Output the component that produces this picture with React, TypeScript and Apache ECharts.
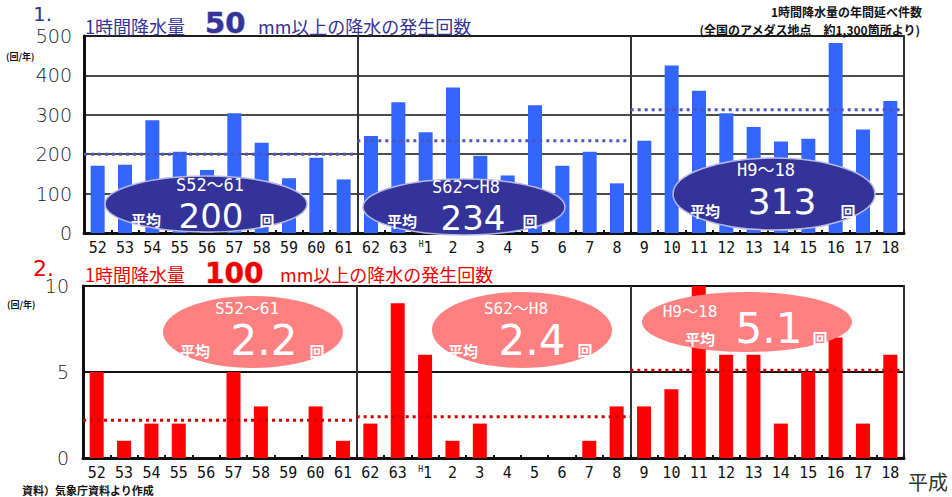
import React, { useEffect, useRef } from 'react';
import * as echarts from 'echarts';

const categories = ['52','53','54','55','56','57','58','59','60','61','62','63','H1','2','3','4','5','6','7','8','9','10','11','12','13','14','15','16','17','18'];
const count50 = [171,173,286,206,160,304,229,139,191,136, 246,332,256,369,196,146,324,171,206,126, 234,425,361,304,269,232,239,482,263,335];
const count100 = [5,1,2,2,0,5,3,0,3,1, 2,9,6,1,2,0,0,0,1,3, 3,4,10,6,6,2,5,7,2,6];
const periodLabels = ['S52～61', 'S62～H8', 'H9～18'];
const mean50 = [200, 234, 313];
const mean100 = [2.2, 2.4, 5.1];
const periodStart = [0, 10, 20];
const periodEnd = [10, 20, 30];

const JP = '"Noto Sans CJK JP", "Noto Sans", sans-serif';
const MONO = '"DejaVu Sans Mono", "Noto Sans CJK JP", monospace';
const SANS = '"DejaVu Sans", "Noto Sans", sans-serif';

function txt(text: string, x: number, y: number, size: number, fill: string, opts: any = {}) {
  return {
    type: 'text',
    x, y, z: 100,
    style: {
      text,
      fill,
      fontSize: size,
      fontFamily: opts.family || JP,
      fontWeight: opts.weight || 'normal',
      align: opts.align || 'left',
      verticalAlign: 'middle',
      stroke: opts.stroke,
      lineWidth: opts.lineWidth,
      shadowColor: opts.shadow,
      shadowOffsetX: opts.shadow ? 1.5 : 0,
      shadowOffsetY: opts.shadow ? 1.5 : 0,
      shadowBlur: 0,
    },
  };
}

type Bubble = { cx: number; cy: number; rx: number; ry: number; per: [number, number]; avg: [number, number]; num: [number, number]; kai: [number, number] };

const topBubbles: Bubble[] = [
  { cx: 206, cy: 204, rx: 101, ry: 28, per: [210, 185], avg: [146, 219], num: [211, 216], kai: [267, 219] },
  { cx: 464, cy: 207, rx: 101, ry: 28, per: [466, 187], avg: [402, 220], num: [473, 218], kai: [530, 220] },
  { cx: 774, cy: 194, rx: 101, ry: 36, per: [766, 170], avg: [705, 210], num: [782, 201], kai: [848, 210] },
];
const bottomBubbles: Bubble[] = [
  { cx: 253, cy: 332, rx: 90, ry: 36, per: [247, 308], avg: [195, 350], num: [264, 340], kai: [317, 350] },
  { cx: 522, cy: 330, rx: 90, ry: 38, per: [516, 308], avg: [463, 350], num: [532, 340], kai: [585, 349] },
  { cx: 747, cy: 322, rx: 105, ry: 30, per: [690, 311], avg: [700, 338], num: [769, 328], kai: [820, 337] },
];

function bubbleElements(b: Bubble[], fill: string, stroke: string, means: number[], numSizes: number[], perSize: number) {
  const els: any[] = [];
  b.forEach((e, i) => {
    els.push({ type: 'ellipse', z: 90, shape: { cx: e.cx, cy: e.cy, rx: e.rx, ry: e.ry }, style: { fill, stroke, lineWidth: stroke === 'none' ? 0 : 1.5 } });
    els.push(txt(periodLabels[i], e.per[0], e.per[1], perSize, '#ffffff', { family: MONO, align: 'center' }));
    els.push(txt('平均', e.avg[0], e.avg[1], 15, '#ffffff', { align: 'center', weight: 'bold', shadow: '#888' }));
    els.push(txt(String(means[i]), e.num[0], e.num[1], numSizes[i], '#ffffff', { family: SANS, align: 'center', shadow: '#999' }));
    els.push(txt('回', e.kai[0], e.kai[1], 15, '#ffffff', { align: 'center', weight: 'bold', shadow: '#888' }));
  });
  return els;
}

export default function App() {
  const ref = useRef<HTMLDivElement>(null);
  useEffect(() => {
    if (!ref.current) return;
    const chart = echarts.init(ref.current, null, { renderer: 'svg' });
    const xLabel = {
      fontFamily: MONO,
      fontSize: 15,
      color: '#111',
      interval: 0,
      formatter: (v: string) => (v === 'H1' ? '{s|H}1' : v),
      rich: { s: { fontSize: 8, fontFamily: MONO, verticalAlign: 'top', color: '#111' } },
    };
    const yLabel = { fontFamily: SANS, fontWeight: 200, fontSize: 19, color: '#222' };
    const option: any = {
      animation: false,
      backgroundColor: '#ffffff',
      grid: [
        { left: 84, right: 48, top: 36, height: 197, show: true, borderColor: '#444', borderWidth: 2, backgroundColor: 'transparent' },
        { left: 83, right: 48, top: 286, height: 172, show: true, borderColor: '#222', borderWidth: 2, backgroundColor: 'transparent' },
      ],
      xAxis: [
        { type: 'category', gridIndex: 0, data: categories, axisLine: { lineStyle: { color: '#111', width: 3 } }, axisTick: { show: true, inside: true, length: 3, lineStyle: { color: '#111', width: 2 } }, axisLabel: { ...xLabel, margin: 7 } },
        { type: 'value', gridIndex: 0, min: 0, max: 30, interval: 10, position: 'top', axisLine: { show: false }, axisTick: { show: false }, axisLabel: { show: false }, splitLine: { show: true, lineStyle: { color: '#333', width: 2 } } },
        { type: 'category', gridIndex: 1, data: categories, axisLine: { lineStyle: { color: '#111', width: 3 } }, axisTick: { show: true, inside: true, length: 3, lineStyle: { color: '#111', width: 2 } }, axisLabel: { ...xLabel, margin: 7 } },
        { type: 'value', gridIndex: 1, min: 0, max: 30, interval: 10, position: 'top', axisLine: { show: false }, axisTick: { show: false }, axisLabel: { show: false }, splitLine: { show: true, lineStyle: { color: '#333', width: 2 } } },
      ],
      yAxis: [
        { type: 'value', gridIndex: 0, min: 0, max: 500, interval: 100, axisLine: { show: true, lineStyle: { color: '#111', width: 3 } }, axisTick: { show: false }, axisLabel: { ...yLabel, margin: 12 }, splitLine: { lineStyle: { color: '#111', width: 1.5 } } },
        { type: 'value', gridIndex: 1, min: 0, max: 10, interval: 5, axisLine: { show: true, lineStyle: { color: '#111', width: 3 } }, axisTick: { show: false }, axisLabel: { ...yLabel, margin: 14 }, splitLine: { lineStyle: { color: '#111', width: 2 } } },
      ],
      series: [
        { type: 'bar', xAxisIndex: 0, yAxisIndex: 0, data: count50, barWidth: 14, itemStyle: { color: '#3366ff' }, z: 2 },
        ...mean50.map((m, i) => ({ type: 'line', xAxisIndex: 1, yAxisIndex: 0, data: [[periodStart[i], m], [periodEnd[i], m]], symbol: 'none', lineStyle: { color: '#5252b8', width: 3, type: [3, 4] }, z: 3 })),
        { type: 'bar', xAxisIndex: 2, yAxisIndex: 1, data: count100, barWidth: 14, itemStyle: { color: '#ff0000' }, z: 2 },
        ...mean100.map((m, i) => ({ type: 'line', xAxisIndex: 3, yAxisIndex: 1, data: [[periodStart[i], m], [periodEnd[i], m]], symbol: 'none', lineStyle: { color: '#cc0000', width: 3, type: [3, 4] }, z: 3 })),
      ],
      graphic: [
        txt('1.', 33, 14, 20, '#333399', { family: SANS }),
        txt('1時間降水量', 85, 26, 18, '#333399'),
        txt('50', 205, 23, 29, '#333399', { family: SANS, weight: 'bold', stroke: '#9a9ad8', lineWidth: 1 }),
        txt('mm以上の降水の発生回数', 258, 26, 18, '#333399'),
        txt('1時間降水量の年間延べ件数', 922, 11, 12, '#111', { align: 'right', weight: 'bold' }),
        txt('(全国のアメダス地点　約1,300箇所より)', 920, 29, 12, '#111', { align: 'right', weight: 'bold' }),
        txt('(回/年)', 6, 56, 9, '#111', { weight: 'bold' }),
        txt('2.', 33, 268, 22, '#ee0000', { family: SANS }),
        txt('1時間降水量', 85, 274, 18, '#ee0000'),
        txt('100', 205, 273, 28, '#ee0000', { family: SANS, weight: 'bold', stroke: '#ff9a9a', lineWidth: 1 }),
        txt('mm以上の降水の発生回数', 280, 274, 18, '#ee0000'),
        txt('(回/年)', 7, 304, 9, '#111', { weight: 'bold' }),
        txt('資料）気象庁資料より作成', 22, 490, 11, '#111', { weight: 'bold' }),
        txt('平成', 908, 481, 20, '#333'),
        ...bubbleElements(topBubbles, '#333399', '#b8b8e8', mean50, [34, 34, 36], 17),
        ...bubbleElements(bottomBubbles, '#ff8080', 'none', mean100, [42, 42, 42], 16),
      ],
    };
    chart.setOption(option);
    return () => chart.dispose();
  }, []);
  return <div ref={ref} style={{ position: 'fixed', left: 0, top: 0, width: 952, height: 497 }} />;
}
